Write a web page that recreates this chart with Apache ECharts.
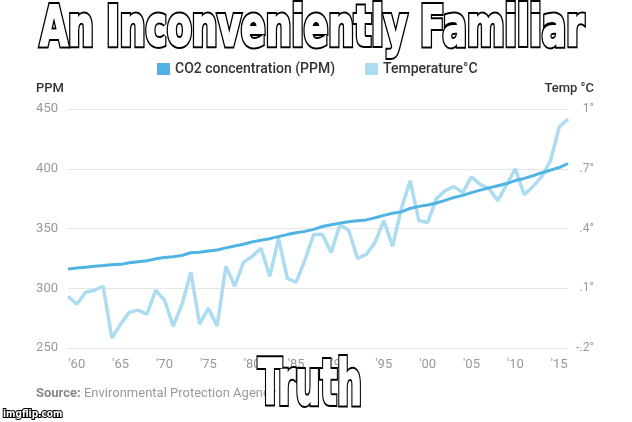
<!DOCTYPE html>
<html>
<head>
<meta charset="utf-8">
<script src="https://cdn.jsdelivr.net/npm/echarts@6/dist/echarts.min.js"></script>
<style>
html,body{margin:0;padding:0;background:#fff;}
#c{width:632px;height:422px;}
</style>
</head>
<body>
<div id="c"></div>
<script>
var years = ['1959','1960','1961','1962','1963','1964','1965','1966','1967','1968','1969',
  '1970','1971','1972','1973','1974','1975','1976','1977','1978','1979',
  '1980','1981','1982','1983','1984','1985','1986','1987','1988','1989',
  '1990','1991','1992','1993','1994','1995','1996','1997','1998','1999',
  '2000','2001','2002','2003','2004','2005','2006','2007','2008','2009',
  '2010','2011','2012','2013','2014','2015','2016'];
var co2 = [316.0,316.9,317.6,318.5,319.0,319.6,320.0,321.4,322.2,323.0,324.6,
  325.7,326.3,327.5,329.7,330.2,331.1,332.0,333.8,335.4,336.8,
  338.8,340.1,341.5,343.2,344.9,346.4,347.6,349.3,351.7,353.2,
  354.5,355.7,356.5,357.2,359.0,361.0,362.7,363.9,366.8,368.5,
  369.7,371.3,373.5,376.0,377.7,380.0,382.1,384.0,385.8,387.6,
  390.1,391.9,394.1,396.7,398.8,401.0,404.4];
var temp = [0.06,0.02,0.08,0.09,0.11,-0.15,-0.08,-0.02,-0.01,-0.03,0.09,
  0.04,-0.09,0.02,0.18,-0.08,0.00,-0.09,0.21,0.11,0.23,
  0.26,0.30,0.16,0.35,0.15,0.13,0.24,0.37,0.37,0.28,
  0.42,0.39,0.25,0.27,0.33,0.44,0.31,0.50,0.64,0.44,
  0.43,0.55,0.59,0.61,0.58,0.66,0.62,0.60,0.54,0.62,
  0.70,0.57,0.61,0.66,0.74,0.91,0.95];
var seriesNames = ['CO2 concentration (PPM)', 'Temperature°C'];
var memeTop = 'An Inconveniently Familiar';
var memeBottom = 'Truth';

var chart = echarts.init(document.getElementById('c'), null, {renderer:'canvas'});
var mctx = document.createElement('canvas').getContext('2d');
function memeText(txt, cx, top, targetW, size) {
  var font = 'bold ' + size + 'px "DejaVu Sans", sans-serif';
  mctx.font = font;
  var s = targetW / mctx.measureText(txt).width;
  var base = {type:'text', x: cx, y: top, scaleX: s, scaleY: 1};
  return [
    echarts.util.merge({z:100, style:{text:txt, font:font, fill:'#000', stroke:'#000', lineWidth:6, lineJoin:'round', shadowBlur:6, shadowColor:'#000', textAlign:'center', textVerticalAlign:'top'}}, base),
    echarts.util.merge({z:101, style:{text:txt, font:font, fill:'#fff', stroke:'#fff', lineWidth:2, lineJoin:'round', textAlign:'center', textVerticalAlign:'top'}}, base)
  ];
}
var option = {
  animation: false,
  textStyle: {fontFamily: 'Roboto'},
  grid: {left: 68, right: 64, top: 109, bottom: 74, containLabel: false},
  legend: {
    data: seriesNames, left: 152, top: 57, icon: 'rect', itemWidth: 13, itemHeight: 12, itemGap: 30,
    textStyle: {fontSize: 14, color: '#333', fontWeight: 500, fontFamily: 'Roboto'}
  },
  xAxis: {
    type: 'category', data: years, boundaryGap: false,
    axisLine: {show: false}, axisTick: {show: false},
    axisLabel: {
      interval: function (i, v) { return (+v) % 5 === 0; },
      formatter: function (v) { return "'" + v.slice(2); },
      color: '#999', fontSize: 13, margin: 10
    }
  },
  yAxis: [{
    type: 'value', min: 250, max: 450, interval: 50,
    axisLine: {show: false}, axisTick: {show: false},
    axisLabel: {color: '#999', fontSize: 13, margin: 10},
    splitLine: {lineStyle: {color: '#e6e6e6', width: 1}}
  }, {
    type: 'value', min: -0.2, max: 1.0, interval: 0.3,
    axisLine: {show: false}, axisTick: {show: false},
    splitLine: {show: false},
    axisLabel: {
      color: '#999', fontSize: 12, margin: 26, align: 'right',
      formatter: function (v) {
        var s = (Math.round(v * 10) / 10).toString().replace('0.', '.');
        return s + '°';
      }
    }
  }],
  series: [{
    name: seriesNames[0], type: 'line', data: co2, yAxisIndex: 0, z: 3,
    showSymbol: false, symbol: 'none', color: '#4fb3e3',
    lineStyle: {width: 3, color: '#4fb3e3'}
  }, {
    name: seriesNames[1], type: 'line', data: temp, yAxisIndex: 1, z: 2,
    showSymbol: false, symbol: 'none', color: '#abdcf1',
    lineStyle: {width: 3.5, color: '#abdcf1'}
  }],
  graphic: [].concat(
    [
      {type:'text', left: 36, top: 82, style:{text:'PPM', font:'500 13px Roboto', fill:'#333'}},
      {type:'text', right: 38, top: 82, style:{text:'Temp °C', font:'500 13px Roboto', fill:'#333'}},
      {type:'text', left: 36, top: 387, style:{
        text:'{b|Source:} Environmental Protection Agency', font:'13px Roboto', fill:'#999',
        rich:{b:{fontWeight:'bold', fontSize:13, fontFamily:'Roboto', fill:'#888'}}}},
      {type:'text', left: 2, top: 408, z:100, style:{text:'imgflip.com', font:'bold 10px "DejaVu Sans Condensed", sans-serif', fill:'#fff', stroke:'#000', lineWidth:2}}
    ],
    memeText(memeTop, 312, 2, 544, 56),
    memeText(memeBottom, 310, 357, 104, 62)
  )
};
chart.setOption(option);
</script>
</body>
</html>
